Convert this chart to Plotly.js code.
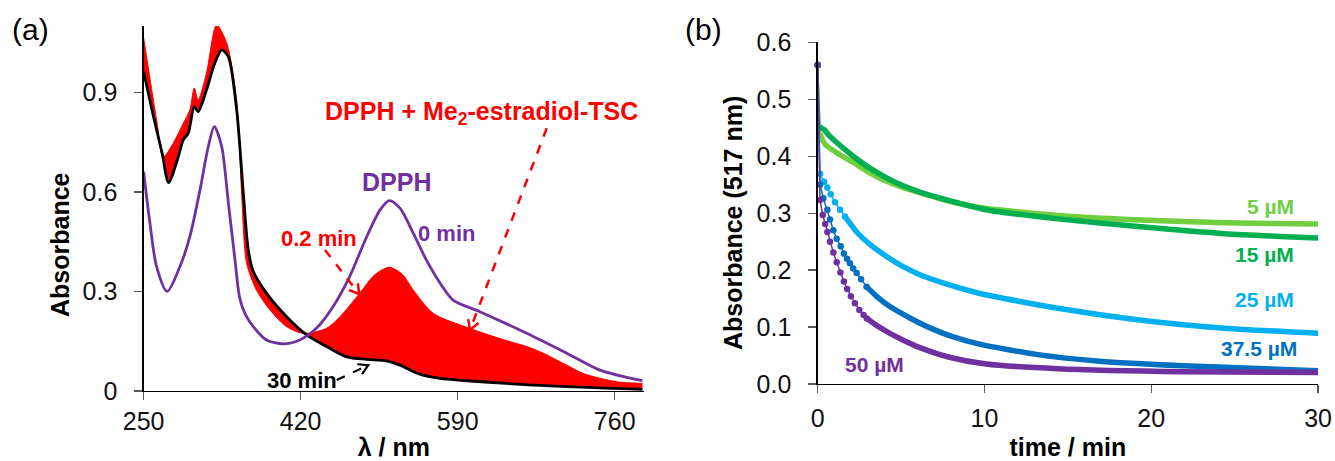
<!DOCTYPE html>
<html>
<head>
<meta charset="utf-8">
<script src="https://cdn.plot.ly/plotly-3.0.1.min.js"></script>
<style>html,body{margin:0;padding:0;background:#fff;}#chart{width:1335px;height:461px;}</style>
</head>
<body>
<div id="chart"></div>
<script>
// ---------- Panel (a): UV-vis spectra ----------
// DPPH alone (0 min)
const lambdaDPPH = [250, 256.8, 264, 275.5, 289.3, 300, 311, 320, 326.5, 334.5, 341.6, 348.9, 354, 360, 368.7, 383, 401, 419, 437, 455, 473, 491.5, 506, 516, 527.5, 542, 556, 571, 585, 614, 664.7, 708, 744, 790];
const absDPPH    = [0.661, 0.506, 0.375, 0.300, 0.375, 0.465, 0.606, 0.737, 0.797, 0.737, 0.570, 0.395, 0.280, 0.232, 0.194, 0.154, 0.142, 0.154, 0.189, 0.254, 0.345, 0.465, 0.546, 0.574, 0.551, 0.475, 0.395, 0.325, 0.274, 0.239, 0.174, 0.114, 0.063, 0.031];
// DPPH + Me2-estradiol-TSC, first spectrum (0.2 min)
const lambdaFirst = [250, 260, 265, 271, 282, 292.9, 300, 304.8, 309, 318, 329, 340, 350.7, 356, 361.5, 372, 386.8, 404.8, 422.8, 448, 462.6, 484, 500, 516, 530, 542, 563.6, 599.8, 635.8, 664.7, 682.7, 708, 726, 762, 790];
const absFirst    = [1.064, 0.886, 0.800, 0.705, 0.747, 0.807, 0.847, 0.913, 0.877, 0.958, 1.103, 1.048, 0.877, 0.600, 0.385, 0.305, 0.244, 0.194, 0.174, 0.189, 0.224, 0.295, 0.350, 0.373, 0.352, 0.304, 0.234, 0.192, 0.158, 0.134, 0.114, 0.078, 0.053, 0.028, 0.023];
// last spectrum (30 min)
const lambdaLast = [250, 260, 270, 277, 287.5, 292.9, 298.3, 304.8, 309, 318, 327, 334.5, 341.6, 350.7, 357.9, 363.3, 368.7, 383, 404.8, 426.5, 448, 469.8, 491.5, 513, 527.5, 549, 571, 599.8, 672, 790];
const absLast    = [0.962, 0.835, 0.717, 0.628, 0.706, 0.757, 0.777, 0.857, 0.842, 0.907, 0.988, 1.028, 1.008, 0.847, 0.596, 0.425, 0.360, 0.295, 0.224, 0.169, 0.134, 0.103, 0.0955, 0.091, 0.078, 0.051, 0.038, 0.031, 0.018, 0.005];
const xTicksA = [250, 420, 590, 760];
const yTicksA = [0, 0.3, 0.6, 0.9];

// ---------- Panel (b): kinetics at 517 nm ----------
const seriesNames = ['5 µM', '15 µM', '25 µM', '37.5 µM', '50 µM'];
const t5   = [0, 0.14, 0.44, 1.14, 2.13, 3.13, 4.13, 5.13, 6.13, 7.9, 9.7, 14.4, 19.4, 24.4, 30];
const a5   = [0.56, 0.437, 0.421, 0.406, 0.389, 0.371, 0.356, 0.345, 0.336, 0.321, 0.310, 0.296, 0.288, 0.283, 0.281];
const t15  = [0, 0.14, 0.38, 0.64, 1.14, 2.13, 3.13, 4.13, 5.13, 6.13, 7.9, 10.1, 14.4, 19.4, 24.4, 30];
const a15  = [0.56, 0.450, 0.447, 0.438, 0.424, 0.400, 0.379, 0.362, 0.348, 0.337, 0.322, 0.306, 0.290, 0.276, 0.264, 0.2565];
const t25  = [0, 0.14, 0.38, 0.58, 0.78, 1.04, 1.34, 1.64, 2.34, 3.13, 4.13, 5.13, 6.13, 7.9, 9.72, 14.4, 19.4, 24.4, 30];
const a25  = [0.56, 0.369, 0.355, 0.345, 0.333, 0.319, 0.306, 0.294, 0.267, 0.245, 0.224, 0.206, 0.192, 0.174, 0.159, 0.133, 0.112, 0.098, 0.089];
const t375 = [0, 0.14, 0.34, 0.58, 0.74, 0.94, 1.14, 1.38, 1.57, 1.76, 1.93, 2.13, 2.34, 2.6, 2.93, 3.53, 4.33, 5.53, 6.7, 7.9, 9.7, 13.1, 16.9, 21.9, 30];
const a375 = [0.56, 0.350, 0.326, 0.306, 0.289, 0.270, 0.255, 0.242, 0.229, 0.220, 0.212, 0.203, 0.195, 0.184, 0.171, 0.154, 0.136, 0.116, 0.099, 0.085, 0.070, 0.052, 0.040, 0.032, 0.0235];
const t50  = [0, 0.14, 0.3, 0.45, 0.58, 0.74, 0.94, 1.14, 1.36, 1.57, 1.77, 1.99, 2.23, 2.5, 2.75, 2.95, 3.53, 4.33, 5.13, 6.13, 7.9, 10.1, 14.4, 21.9, 30];
const a50  = [0.56, 0.323, 0.297, 0.281, 0.267, 0.250, 0.231, 0.214, 0.196, 0.180, 0.167, 0.154, 0.142, 0.130, 0.121, 0.115, 0.103, 0.089, 0.077, 0.064, 0.047, 0.035, 0.027, 0.0216, 0.020];
const xTicksB = [0, 10, 20, 30];
const yTicksB = [0, 0.1, 0.2, 0.3, 0.4, 0.5, 0.6];

// ---------- styling ----------
const FONT = 'Arial, "Liberation Sans", Helvetica, sans-serif';
const RED = '#ff0000', PURPLE = '#7030a0', BLACK = '#000000';
const seriesStyle = [
  {t: t5,   a: a5,   color: '#6fcf3f', dotsUntil: 0.2},
  {t: t15,  a: a15,  color: '#00b050', dotsUntil: 0.2},
  {t: t25,  a: a25,  color: '#00b0f0', dotsUntil: 1.7},
  {t: t375, a: a375, color: '#0070c0', dotsUntil: 3.0},
  {t: t50,  a: a50,  color: '#7030a0', dotsUntil: 3.0}
];

const W = 1335, H = 461;
const domXA = [0.1076, 0.4824], domYA = [0.1518, 0.9436];
const rangeXA = [250, 791.7], rangeYA = [0, 1.1];
const pxPerX = (domXA[1] - domXA[0]) * W / (rangeXA[1] - rangeXA[0]);
const pxPerY = (domYA[1] - domYA[0]) * H / (rangeYA[1] - rangeYA[0]);

const traces = [];
traces.push({x: lambdaLast, y: absLast, xaxis: 'x', yaxis: 'y', mode: 'lines',
  line: {width: 0, color: BLACK, shape: 'spline', smoothing: 0.8}, hoverinfo: 'skip'});
traces.push({x: lambdaFirst, y: absFirst, xaxis: 'x', yaxis: 'y', mode: 'lines', fill: 'tonexty',
  fillcolor: RED, line: {width: 1, color: RED, shape: 'spline', smoothing: 0.8}, name: '0.2 min'});
traces.push({x: lambdaLast, y: absLast, xaxis: 'x', yaxis: 'y', mode: 'lines',
  line: {width: 2.8, color: BLACK, shape: 'spline', smoothing: 0.8}, name: '30 min'});
traces.push({x: lambdaDPPH, y: absDPPH, xaxis: 'x', yaxis: 'y', mode: 'lines',
  line: {width: 2.8, color: PURPLE, shape: 'spline', smoothing: 0.8}, name: 'DPPH'});

seriesStyle.forEach((s, i) => {
  const idx = s.t.map((v, k) => k);
  const early = idx.filter(k => s.t[k] <= s.dotsUntil);
  const lastEarly = early[early.length - 1];
  const late = idx.filter(k => k >= lastEarly);
  traces.push({x: early.map(k => s.t[k]), y: early.map(k => s.a[k]), xaxis: 'x2', yaxis: 'y2',
    mode: 'lines+markers', cliponaxis: false, line: {width: 1.5, color: s.color},
    marker: {size: 6.5, color: s.color}, name: seriesNames[i]});
  traces.push({x: late.map(k => s.t[k]), y: late.map(k => s.a[k]), xaxis: 'x2', yaxis: 'y2',
    mode: 'lines', cliponaxis: false, line: {width: 5.5, color: s.color, shape: 'spline', smoothing: 0.6},
    name: seriesNames[i]});
});

// dashed arrow: dashed shaft + open V head (head drawn in pixel geometry, converted to data units)
function dashedArrow(x0, y0, x1, y1, color, width) {
  const dxp = (x1 - x0) * pxPerX, dyp = (y1 - y0) * pxPerY;
  const len = Math.hypot(dxp, dyp), ux = dxp / len, uy = dyp / len;
  const headLen = 11, ang = Math.PI / 6;
  const pts = [ang, -ang].map(a => {
    const c = Math.cos(a), s = Math.sin(a);
    const bx = -(ux * c - uy * s) * headLen, by = -(ux * s + uy * c) * headLen;
    return [x1 + bx / pxPerX, y1 + by / pxPerY];
  });
  return [
    {type: 'line', xref: 'x', yref: 'y', x0: x0, y0: y0, x1: x1 - ux * 2 / pxPerX, y1: y1 - uy * 2 / pxPerY,
      line: {color: color, width: width, dash: 'dash'}},
    {type: 'path', xref: 'x', yref: 'y',
      path: `M ${pts[0][0]},${pts[0][1]} L ${x1},${y1} L ${pts[1][0]},${pts[1][1]}`,
      line: {color: color, width: width}}
  ];
}

const axisCommon = {showgrid: false, zeroline: false, showline: true, linecolor: BLACK, linewidth: 1.3,
  ticks: 'outside', ticklen: 8, tickwidth: 1.3, tickcolor: '#595959',
  tickfont: {family: FONT, size: 25, color: '#111'}};

const layout = {
  width: W, height: H, margin: {l: 0, r: 0, t: 0, b: 0},
  paper_bgcolor: '#fff', plot_bgcolor: 'rgba(0,0,0,0)', showlegend: false,
  font: {family: FONT},
  xaxis: Object.assign({}, axisCommon, {domain: domXA, range: rangeXA, anchor: 'y',
    tickvals: xTicksA, ticklabelstandoff: 0,
    title: {text: '<b>λ / nm</b>', font: {family: FONT, size: 25, color: '#000'}, standoff: 12}}),
  yaxis: Object.assign({}, axisCommon, {domain: domYA, range: rangeYA, anchor: 'x',
    tickvals: yTicksA, ticktext: ['0', '0.3', '0.6', '0.9'], ticklabelstandoff: 12}),
  xaxis2: Object.assign({}, axisCommon, {domain: [0.6125, 0.9873], range: [0, 30], anchor: 'y2',
    tickvals: xTicksB, ticklabelstandoff: 4,
    title: {text: '<b>time / min</b>', font: {family: FONT, size: 25, color: '#000'}, standoff: 10}}),
  yaxis2: Object.assign({}, axisCommon, {domain: [0.167, 0.9082], range: [0, 0.6], anchor: 'x2',
    tickvals: yTicksB, tickformat: '.1f', ticklabelstandoff: 12}),
  shapes: [].concat(
    dashedArrow(446.3, 0.425, 483.5, 0.292, RED, 2.5),
    dashedArrow(686.4, 0.792, 603.3, 0.184, RED, 2.5),
    dashedArrow(459, 0.033, 493.2, 0.078, BLACK, 2.2)
  ),
  annotations: [
    {xref: 'paper', yref: 'paper', x: 31/W, y: 1 - 30/H, xanchor: 'center', yanchor: 'middle', text: '(a)', showarrow: false, font: {family: FONT, size: 30, color: '#000'}},
    {xref: 'paper', yref: 'paper', x: 703/W, y: 1 - 30/H, xanchor: 'center', yanchor: 'middle', text: '(b)', showarrow: false, font: {family: FONT, size: 30, color: '#000'}},
    {xref: 'paper', yref: 'paper', x: 60/W, y: 1 - 245/H, xanchor: 'center', yanchor: 'middle', text: '<b>Absorbance</b>', textangle: -90, showarrow: false, font: {family: FONT, size: 25, color: '#000'}},
    {xref: 'paper', yref: 'paper', x: 733/W, y: 1 - 223/H, xanchor: 'center', yanchor: 'middle', text: '<b>Absorbance (517 nm)</b>', textangle: -90, showarrow: false, font: {family: FONT, size: 25, color: '#000'}},
    {xref: 'x', yref: 'y', x: 616, y: 0.838, xanchor: 'center', text: '<b>DPPH + Me<sub>2</sub>-estradiol-TSC</b>', showarrow: false, font: {family: FONT, size: 25, color: RED}},
    {xref: 'x', yref: 'y', x: 524, y: 0.630, xanchor: 'center', text: '<b>DPPH</b>', showarrow: false, font: {family: FONT, size: 25, color: PURPLE}},
    {xref: 'x', yref: 'y', x: 439.8, y: 0.460, xanchor: 'center', text: '<b>0.2 min</b>', showarrow: false, font: {family: FONT, size: 22, color: RED}},
    {xref: 'x', yref: 'y', x: 578, y: 0.475, xanchor: 'center', text: '<b>0 min</b>', showarrow: false, font: {family: FONT, size: 22, color: PURPLE}},
    {xref: 'x', yref: 'y', x: 421, y: 0.033, xanchor: 'center', text: '<b>30 min</b>', showarrow: false, font: {family: FONT, size: 22, color: BLACK}},
    {xref: 'x2', yref: 'y2', x: 28.7, y: 0.3116, xanchor: 'right', text: '<b>5 µM</b>', showarrow: false, font: {family: FONT, size: 21, color: '#6fcf3f'}},
    {xref: 'x2', yref: 'y2', x: 28.7, y: 0.227, xanchor: 'right', text: '<b>15 µM</b>', showarrow: false, font: {family: FONT, size: 21, color: '#00b050'}},
    {xref: 'x2', yref: 'y2', x: 28.7, y: 0.148, xanchor: 'right', text: '<b>25 µM</b>', showarrow: false, font: {family: FONT, size: 21, color: '#00b0f0'}},
    {xref: 'x2', yref: 'y2', x: 28.84, y: 0.0629, xanchor: 'right', text: '<b>37.5 µM</b>', showarrow: false, font: {family: FONT, size: 21, color: '#0070c0'}},
    {xref: 'x2', yref: 'y2', x: 3.43, y: 0.0335, xanchor: 'center', text: '<b>50 µM</b>', showarrow: false, font: {family: FONT, size: 21, color: '#7030a0'}}
  ]
};

Plotly.newPlot('chart', traces, layout, {staticPlot: true, displayModeBar: false});
</script>
</body>
</html>
